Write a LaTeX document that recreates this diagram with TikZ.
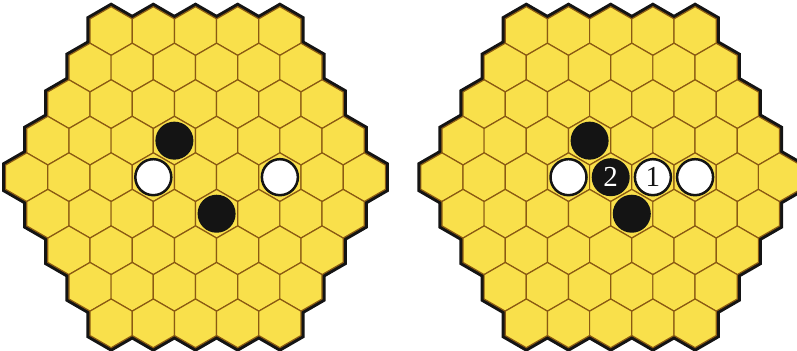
\documentclass[tikz,border=0pt]{standalone}
\usepackage{fontspec}
\setmainfont{Liberation Serif}
\usepackage{xcolor}
\usepackage{tikz}
\definecolor{C_CELL}{HTML}{F9E04B}
\definecolor{C_EDGE}{HTML}{8A5A12}
\definecolor{C_STONE}{HTML}{141414}

% one hex board of side 5: #1 centre x, #2 style, #3 name prefix
\newcommand{\hexboard}[3]{%
  \foreach \k in {0,...,8} {
    \pgfmathtruncatemacro\m{8-abs(\k-4)}
    \foreach \j in {0,...,\m} {
      \pgfmathsetmacro\cx{#1+(\j-\m/2)*42.19}
      \pgfmathsetmacro\cy{173.8-(\k-4)*36.54}
      \coordinate (#3-\k-\j) at (\cx,\cy);
      \draw[#2] (#3-\k-\j) ++(30:24.36) -- ++(150:24.36) -- ++(210:24.36)
        -- ++(270:24.36) -- ++(330:24.36) -- ++(30:24.36) -- cycle;
    }
  }%
}

\begin{document}
\begin{tikzpicture}[
  x=0.5pt, y=0.5pt,
  rim/.style={draw=C_STONE, line width=3.6pt},
  cell/.style={fill=C_CELL, draw=C_EDGE, line width=0.6pt},
  stone/.style={circle, inner sep=0pt, font=\fontsize{14.5}{16}\selectfont},
  bstone/.style={stone, fill=C_STONE, minimum size=19pt, text=white},
  wstone/.style={stone, fill=white, draw=C_STONE, line width=1.25pt,
                 minimum size=18pt, text=C_STONE},
]
\useasboundingbox (0,0) rectangle (797,351);

%% boards
\hexboard{195.5}{rim}{L}
\hexboard{195.5}{cell}{L}
\hexboard{610.7}{rim}{R}
\hexboard{610.7}{cell}{R}

%% left position
\node[bstone] (lb1) at (L-3-3) {};
\node[wstone] (lw1) at (L-4-3) {};
\node[wstone] (lw2) at (L-4-6) {};
\node[bstone] (lb2) at (L-5-4) {};

%% right position with the two moves
\node[bstone] (rb1) at (R-3-3) {};
\node[wstone] (rw1) at (R-4-3) {};
\node[bstone] (rb2) at (R-4-4) {2};
\node[wstone] (rw2) at (R-4-5) {1};
\node[wstone] (rw3) at (R-4-6) {};
\node[bstone] (rb3) at (R-5-4) {};

\end{tikzpicture}
\end{document}
